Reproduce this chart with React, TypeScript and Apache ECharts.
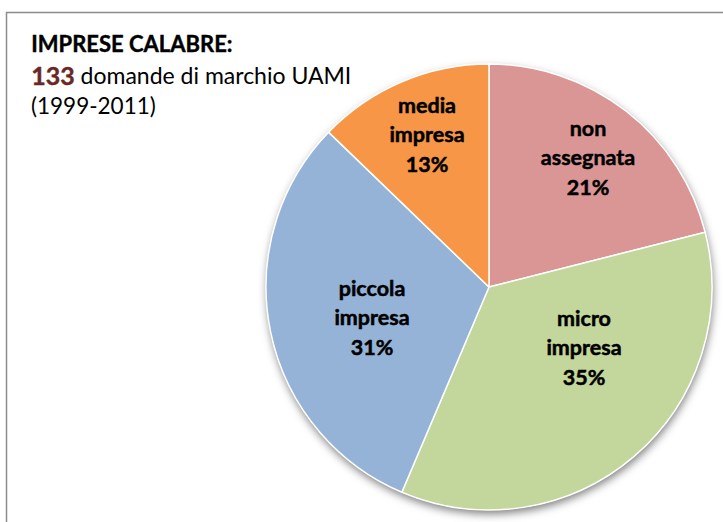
import React, { useEffect, useRef } from "react";
import * as echarts from "echarts";

const categories = ["non assegnata", "micro impresa", "piccola impresa", "media impresa"];
const counts = [28, 47, 41, 17];
const colors = ["#D99694", "#C3D69B", "#95B3D7", "#F79646"];
const titleLine1 = "IMPRESE CALABRE:";
const totalLabel = "133";
const titleLine2 = " domande di marchio UAMI";
const titleLine3 = "(1999-2011)";
// label centres (Excel "best fit" placement)
const labelCenters: [number, number][] = [
  [588, 157],
  [584, 347],
  [372, 317],
  [427, 134],
];

export default function App() {
  const ref = useRef<HTMLDivElement>(null);
  useEffect(() => {
    if (!ref.current) return;
    const chart = echarts.init(ref.current, undefined, { renderer: "svg" });
    const font = "Lato, 'Open Sans', sans-serif";
    chart.setOption({
      animation: false,
      backgroundColor: "#ffffff",
      graphic: [
        {
          type: "rect",
          silent: true,
          z: 0,
          shape: { x: 6.5, y: 12.5, width: 740, height: 540 },
          style: { fill: "none", stroke: "#8c8c8c", lineWidth: 1.5 },
        },
        {
          type: "text",
          left: 31,
          top: 32,
          style: {
            text: titleLine1,
            font: `bold 22px ${font}`,
            fill: "#000000",
            stroke: "#000000",
            lineWidth: 0.4,
          },
        },
        {
          type: "text",
          left: 31,
          top: 62,
          style: {
            text: `{b|${totalLabel}}{r|${titleLine2}}`,
            rich: {
              b: { font: `bold 25px ${font}`, fill: "#6B2724", stroke: "#6B2724", lineWidth: 0.4 },
              r: { font: `23px ${font}`, fill: "#000000" },
            },
          },
        },
        {
          type: "text",
          left: 31,
          top: 94,
          style: {
            text: titleLine3,
            font: `22.5px ${font}`,
            fill: "#000000",
          },
        },
      ],
      series: [
        {
          type: "pie",
          silent: true,
          z: 1,
          center: [489, 287],
          radius: 223,
          startAngle: 90,
          label: { show: false },
          labelLine: { show: false },
          data: [{ value: 1, name: "" }],
          itemStyle: {
            color: "#ffffff",
            shadowBlur: 8,
            shadowOffsetX: 1,
            shadowOffsetY: 4,
            shadowColor: "rgba(0,0,0,0.5)",
          },
        },
        {
          type: "pie",
          z: 2,
          center: [489, 287],
          radius: 223,
          startAngle: 90,
          clockwise: true,
          percentPrecision: 0,
          data: categories.map((c, i) => ({
            name: c,
            value: counts[i],
            itemStyle: { color: colors[i] },
          })),
          itemStyle: { borderColor: "#ffffff", borderWidth: 1.5 },
          label: {
            show: true,
            position: "inside",
            formatter: (p: any) => `${p.name.replace(" ", "\n")}\n${p.percent}%`,
            fontFamily: font,
            fontWeight: "bold",
            fontSize: 21.5,
            lineHeight: 29.5,
            color: "#000000",
            textBorderColor: "#000000",
            textBorderWidth: 0.5,
            align: "center",
          },
          labelLine: { show: false },
          labelLayout: (p: any) => {
            const [x, y] = labelCenters[p.dataIndex];
            return { x, y, align: "center", verticalAlign: "middle" };
          },
        },
      ],
    });
    return () => chart.dispose();
  }, []);
  return (
    <div
      ref={ref}
      style={{ position: "fixed", left: 0, top: 0, width: 723, height: 522 }}
    />
  );
}
